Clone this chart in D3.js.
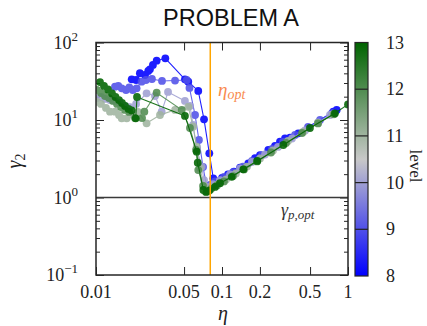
<!DOCTYPE html>
<html>
<head>
<meta charset="utf-8">
<script src="https://cdn.jsdelivr.net/npm/d3@7/dist/d3.min.js"></script>
<style>
  html, body { margin: 0; padding: 0; background: #fff; }
  svg { display: block; }
</style>
</head>
<body>
<svg id="chart" width="427" height="326"></svg>
<script>
// Refinement levels and, for each, the sampled (eta, gamma2) curve
const levels = [8, 9, 10, 11, 12, 13];

const eta8 = [0.0192,0.0208,0.0223,0.0245,0.0260,0.0268,0.0283,0.0303,0.0355,0.0508,0.0540,0.0648,0.0720,0.0793,0.0853,0.0908,0.100,0.1116,0.1245,0.139,0.1617,0.1828,0.2003,0.2331,0.2634,0.2886,0.3162,0.3466,0.403,0.764,0.813];
const gam8 = [33.5,32.8,40.1,38.1,42.9,45.1,51.3,58.2,62.5,33.5,31.2,23.7,10.2,3.72,1.77,1.63,1.79,1.98,2.16,2.42,2.76,3.21,3.53,4.10,4.62,5.25,5.81,5.91,6.73,12.8,13.5];

const eta9 = [0.01415,0.01503,0.0160,0.0173,0.01837,0.01955,0.0210,0.0230,0.0249,0.0278,0.0334,0.0424,0.0525,0.0552,0.0611,0.0656,0.0707,0.0756,0.0803,0.0880,0.1037,0.1223,0.1468,0.1730,0.2078,0.2493,0.3050,0.3796,0.4815,0.5995,0.746];
const gam9 = [26.9,27.5,25.6,24.4,26.4,24.4,25.6,31.2,32.8,33.8,31.9,32.3,32.8,25.9,11.6,5.52,2.48,1.38,1.45,1.61,1.84,2.13,2.51,2.96,3.53,4.23,5.20,6.40,8.13,10.0,12.3];

const eta10 = [0.01018,0.01096,0.01179,0.01291,0.01415,0.0155,0.0170,0.01862,0.0208,0.0252,0.0294,0.0332,0.0373,0.0508,0.0557,0.0589,0.0634,0.0690,0.0720,0.0774,0.0848,0.0964,0.1157,0.139,0.1730,0.2194,0.278,0.3594,0.456,0.578,0.719];
const gam10 = [19.2,19.8,18.7,18.1,17.6,16.6,15.2,14.7,16.1,22.1,20.4,12.8,23.0,17.6,15.2,8.62,4.10,2.50,1.68,1.37,1.49,1.68,1.98,2.37,2.87,3.59,4.49,5.77,7.32,9.29,11.6];

const eta11 = [0.01018,0.01096,0.0120,0.01291,0.01415,0.01523,0.0160,0.01753,0.01896,0.0215,0.0252,0.0322,0.0424,0.0540,0.0589,0.0630,0.0669,0.0720,0.0767,0.0833,0.0930,0.1076,0.129,0.158,0.2003,0.254,0.334,0.440,0.578,0.760];
const gam11 = [17.1,16.1,14.3,12.8,12.8,11.6,10.5,10.5,11.9,12.7,9.07,11.6,13.5,14.8,8.20,4.52,2.40,1.41,1.25,1.35,1.49,1.71,2.04,2.51,3.19,4.04,5.36,7.00,9.15,11.8];

const eta12 = [0.01018,0.01096,0.01179,0.01268,0.01364,0.01468,0.0158,0.0170,0.0183,0.0204,0.0232,0.0242,0.0303,0.0479,0.0557,0.0622,0.0648,0.0707,0.0756,0.0818,0.0912,0.1037,0.1223,0.1495,0.1897,0.2447,0.322,0.4315,0.578,0.774];
const gam12 = [24.4,22.3,20.4,19.2,17.6,16.1,14.7,13.5,12.7,10.6,10.6,12.8,22.5,13.5,7.88,4.10,2.26,1.41,1.19,1.29,1.43,1.61,1.89,2.30,2.92,3.81,5.05,6.80,9.02,11.9];

const eta13 = [0.01076,0.01157,0.01245,0.0134,0.01428,0.01523,0.01608,0.0170,0.01811,0.0192,0.02066,0.02116,0.0508,0.0630,0.0642,0.0711,0.0746,0.0793,0.0880,0.0964,0.1194,0.1476,0.1906,0.3066,0.499,0.788,1.0];
const gam13 = [30.9,27.5,24.8,22.0,19.8,18.1,16.6,15.2,13.9,13.3,10.5,19.8,11.3,3.90,2.81,1.25,1.18,1.23,1.37,1.53,1.85,2.31,2.96,4.76,7.88,12.2,15.9];

const etaSeries = [eta8, eta9, eta10, eta11, eta12, eta13];
const gamSeries = [gam8, gam9, gam10, gam11, gam12, gam13];

// Reference values
const etaOpt = 0.0807;
const gammaPOpt = 1.0;

// Axis ticks
const xTickValues = [0.01, 0.05, 0.1, 0.2, 0.5, 1];
const xTickLabels = ["0.01", "0.05", "0.1", "0.2", "0.5", "1"];
const yMajorExps = [2, 1, 0, -1];
const levelTicks = [8, 9, 10, 11, 12, 13];

const svg = d3.select("#chart");
const L = 96, R = 348, T = 42.5, B = 275;

const x = d3.scaleLog().domain([0.01, 1]).range([L, R]);
const y = d3.scaleLog().domain([0.1, 100]).range([B, T]);
const color = d3.scaleLinear().domain([8, 10.5, 13])
  .range(["#0000ff", "#c8c8c8", "#006400"]).interpolate(d3.interpolateRgb);

const serif = "'Liberation Serif', 'DejaVu Serif', serif";
const ink = "#262626";

// Title
svg.append("text").attr("x", 231).attr("y", 26).attr("text-anchor", "middle")
  .attr("font-family", "'Liberation Sans', Arial, sans-serif").attr("font-size", 23.5)
  .attr("fill", "#111").text("PROBLEM A");

// Clip to plotting frame
svg.append("defs").append("clipPath").attr("id", "plotclip")
  .append("rect").attr("x", L).attr("y", T).attr("width", R - L).attr("height", B - T);

// Minor y ticks (2..9 per decade)
const yMinor = [];
for (let e = -1; e < 2; e++) for (let m = 2; m <= 9; m++) yMinor.push(m * Math.pow(10, e));
const yMajor = yMajorExps.map(e => Math.pow(10, e));

function styleAxis(g) {
  g.select(".domain").remove();
  g.selectAll("line").attr("stroke", ink).attr("stroke-width", 1);
  g.selectAll("text").remove();
}
svg.append("g").attr("transform", `translate(${L},0)`)
  .call(d3.axisLeft(y).tickValues(yMinor).tickSize(-4).tickFormat("")).call(styleAxis);
svg.append("g").attr("transform", `translate(${L},0)`)
  .call(d3.axisLeft(y).tickValues(yMajor).tickSize(-8).tickFormat("")).call(styleAxis);
svg.append("g").attr("transform", `translate(${R},0)`)
  .call(d3.axisRight(y).tickValues(yMinor).tickSize(-4).tickFormat("")).call(styleAxis);
svg.append("g").attr("transform", `translate(${R},0)`)
  .call(d3.axisRight(y).tickValues(yMajor).tickSize(-8).tickFormat("")).call(styleAxis);
svg.append("g").attr("transform", `translate(0,${B})`)
  .call(d3.axisBottom(x).tickValues(xTickValues).tickSize(-8).tickFormat("")).call(styleAxis);
svg.append("g").attr("transform", `translate(0,${T})`)
  .call(d3.axisTop(x).tickValues(xTickValues).tickSize(-8).tickFormat("")).call(styleAxis);

// x tick labels
svg.append("g").selectAll("text").data(xTickValues).join("text")
  .attr("x", d => x(d)).attr("y", 298).attr("text-anchor", "middle")
  .attr("font-family", serif).attr("font-size", 18).attr("fill", "#222")
  .text((d, i) => xTickLabels[i]);

// y tick labels: 10^k
const yl = svg.append("g").selectAll("text").data(yMajorExps).join("text")
  .attr("x", 78).attr("y", d => y(Math.pow(10, d)) + 6).attr("text-anchor", "end")
  .attr("font-family", serif).attr("font-size", 18).attr("fill", "#222");
yl.append("tspan").text("10");
yl.append("tspan").attr("dy", -8).attr("font-size", 13)
  .text(d => d < 0 ? "\u2212" + Math.abs(d) : String(d));

// Axis labels
svg.append("text").attr("x", 223).attr("y", 320).attr("text-anchor", "middle")
  .attr("font-family", serif).attr("font-style", "italic").attr("font-size", 20)
  .attr("fill", "#222").text("\u03b7");
const ylab = svg.append("text").attr("transform", "translate(21,161) rotate(-90)")
  .attr("text-anchor", "middle").attr("font-family", serif).attr("fill", "#222");
ylab.append("tspan").attr("font-style", "italic").attr("font-size", 20).text("\u03b3");
ylab.append("tspan").attr("font-size", 14).attr("dy", 4).text("2");

// Data
const plot = svg.append("g").attr("clip-path", "url(#plotclip)");

// Reference lines
plot.append("line").attr("x1", L).attr("x2", R)
  .attr("y1", y(gammaPOpt)).attr("y2", y(gammaPOpt))
  .attr("stroke", "#3a3a3a").attr("stroke-width", 1.4);

const line = d3.line().x(d => x(d[0])).y(d => y(d[1]));
levels.forEach((lev, i) => {
  const pts = etaSeries[i].map((e, j) => [e, gamSeries[i][j]]);
  const c = color(lev);
  const g = plot.append("g").attr("opacity", 0.88);
  g.append("path").datum(pts).attr("d", line).attr("fill", "none")
    .attr("stroke", c).attr("stroke-width", 1.1);
  g.selectAll("circle").data(pts).join("circle")
    .attr("cx", d => x(d[0])).attr("cy", d => y(d[1])).attr("r", 3.9).attr("fill", c);
});

plot.append("line").attr("x1", x(etaOpt)).attr("x2", x(etaOpt))
  .attr("y1", T).attr("y2", B).attr("stroke", "#ffa500").attr("stroke-width", 1.5);

// Frame
svg.append("rect").attr("x", L).attr("y", T).attr("width", R - L).attr("height", B - T)
  .attr("fill", "none").attr("stroke", ink).attr("stroke-width", 1.5);

// Annotations
const etaTxt = svg.append("text").attr("x", 218).attr("y", 96)
  .attr("font-family", serif).attr("font-style", "italic").attr("fill", "#f98a4e");
etaTxt.append("tspan").attr("font-size", 19).text("\u03b7");
etaTxt.append("tspan").attr("font-size", 14).attr("dy", 3).text("opt");

const gTxt = svg.append("text").attr("x", 281).attr("y", 216)
  .attr("font-family", serif).attr("font-style", "italic").attr("fill", "#333");
gTxt.append("tspan").attr("font-size", 18).text("\u03b3");
gTxt.append("tspan").attr("font-size", 13).attr("dy", 3).text("p,opt");

// Colorbar
const cbX = 355, cbW = 13;
const cy = d3.scaleLinear().domain([8, 13]).range([276, 42.5]);
const grad = svg.select("defs").append("linearGradient").attr("id", "cbgrad")
  .attr("x1", 0).attr("y1", 1).attr("x2", 0).attr("y2", 0);
[8, 10.5, 13].forEach(v => grad.append("stop")
  .attr("offset", (v - 8) / 5).attr("stop-color", color(v)));
svg.append("rect").attr("x", cbX).attr("y", cy(13)).attr("width", cbW)
  .attr("height", cy(8) - cy(13)).attr("fill", "url(#cbgrad)");
svg.append("g").selectAll("line").data(levelTicks.slice(1, -1)).join("line")
  .attr("x1", cbX).attr("x2", cbX + cbW).attr("y1", d => cy(d)).attr("y2", d => cy(d))
  .attr("stroke", "#222").attr("stroke-width", 1.2);
svg.append("rect").attr("x", cbX).attr("y", cy(13)).attr("width", cbW)
  .attr("height", cy(8) - cy(13)).attr("fill", "none").attr("stroke", ink).attr("stroke-width", 1.2);
svg.append("g").selectAll("text").data(levelTicks).join("text")
  .attr("x", 386).attr("y", d => cy(d) + 6).attr("font-family", serif)
  .attr("font-size", 18).attr("fill", "#222").text(d => d);
svg.append("text").attr("transform", "translate(410,166) rotate(90)")
  .attr("text-anchor", "middle").attr("font-family", serif).attr("font-size", 17)
  .attr("fill", "#222").text("level");
</script>
</body>
</html>
